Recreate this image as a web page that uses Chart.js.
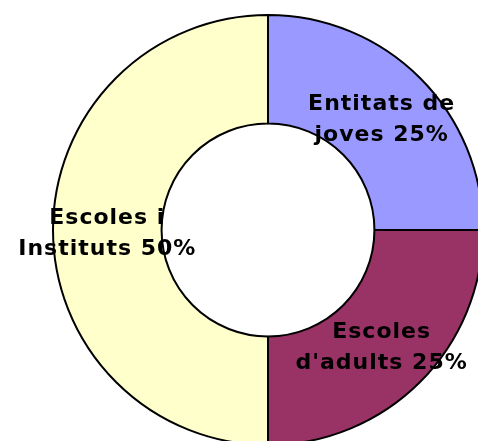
<!DOCTYPE html>
<html>
<head>
<meta charset="utf-8">
<script src="https://cdn.jsdelivr.net/npm/chart.js@4"></script>
<style>
  html, body { margin: 0; padding: 0; background: #fff; overflow: hidden; width: 478px; height: 441px; }
  #chart { position: absolute; left: 0; top: 0; }
</style>
</head>
<body>
<canvas id="chart" width="536" height="460"></canvas>
<script>
const categories = ["Entitats de joves", "Escoles d'adults", "Escoles i Instituts"];
const shares = [25, 25, 50];
const labelLines = [
  ["Entitats de", "joves 25%"],
  ["Escoles", "d'adults 25%"],
  ["Escoles i", "Instituts 50%"]
];
const colors = ["#9999FF", "#993366", "#FFFFCC"];

const sliceLabels = {
  id: "sliceLabels",
  afterDatasetsDraw(chart) {
    const ctx = chart.ctx;
    const arcs = chart.getDatasetMeta(0).data;
    ctx.save();
    ctx.font = "bold 22px 'DejaVu Sans'";
    ctx.letterSpacing = "1px";
    ctx.fillStyle = "#000";
    ctx.textAlign = "center";
    ctx.textBaseline = "alphabetic";
    arcs.forEach((arc, i) => {
      const p = arc.tooltipPosition();
      const lines = labelLines[i];
      ctx.fillText(lines[0], p.x, p.y - 6);
      ctx.fillText(lines[1], p.x, p.y + 25);
    });
    ctx.restore();
  }
};

new Chart(document.getElementById("chart"), {
  type: "doughnut",
  data: {
    labels: categories,
    datasets: [{
      data: shares,
      backgroundColor: colors,
      borderColor: "#000",
      borderWidth: 2,
      borderAlign: "center"
    }]
  },
  options: {
    responsive: false,
    animation: false,
    cutout: "49.5%",
    layout: { padding: { top: 14, bottom: 14, left: 0, right: 0 } },
    plugins: {
      legend: { display: false },
      tooltip: { enabled: false }
    }
  },
  plugins: [sliceLabels]
});
</script>
</body>
</html>
